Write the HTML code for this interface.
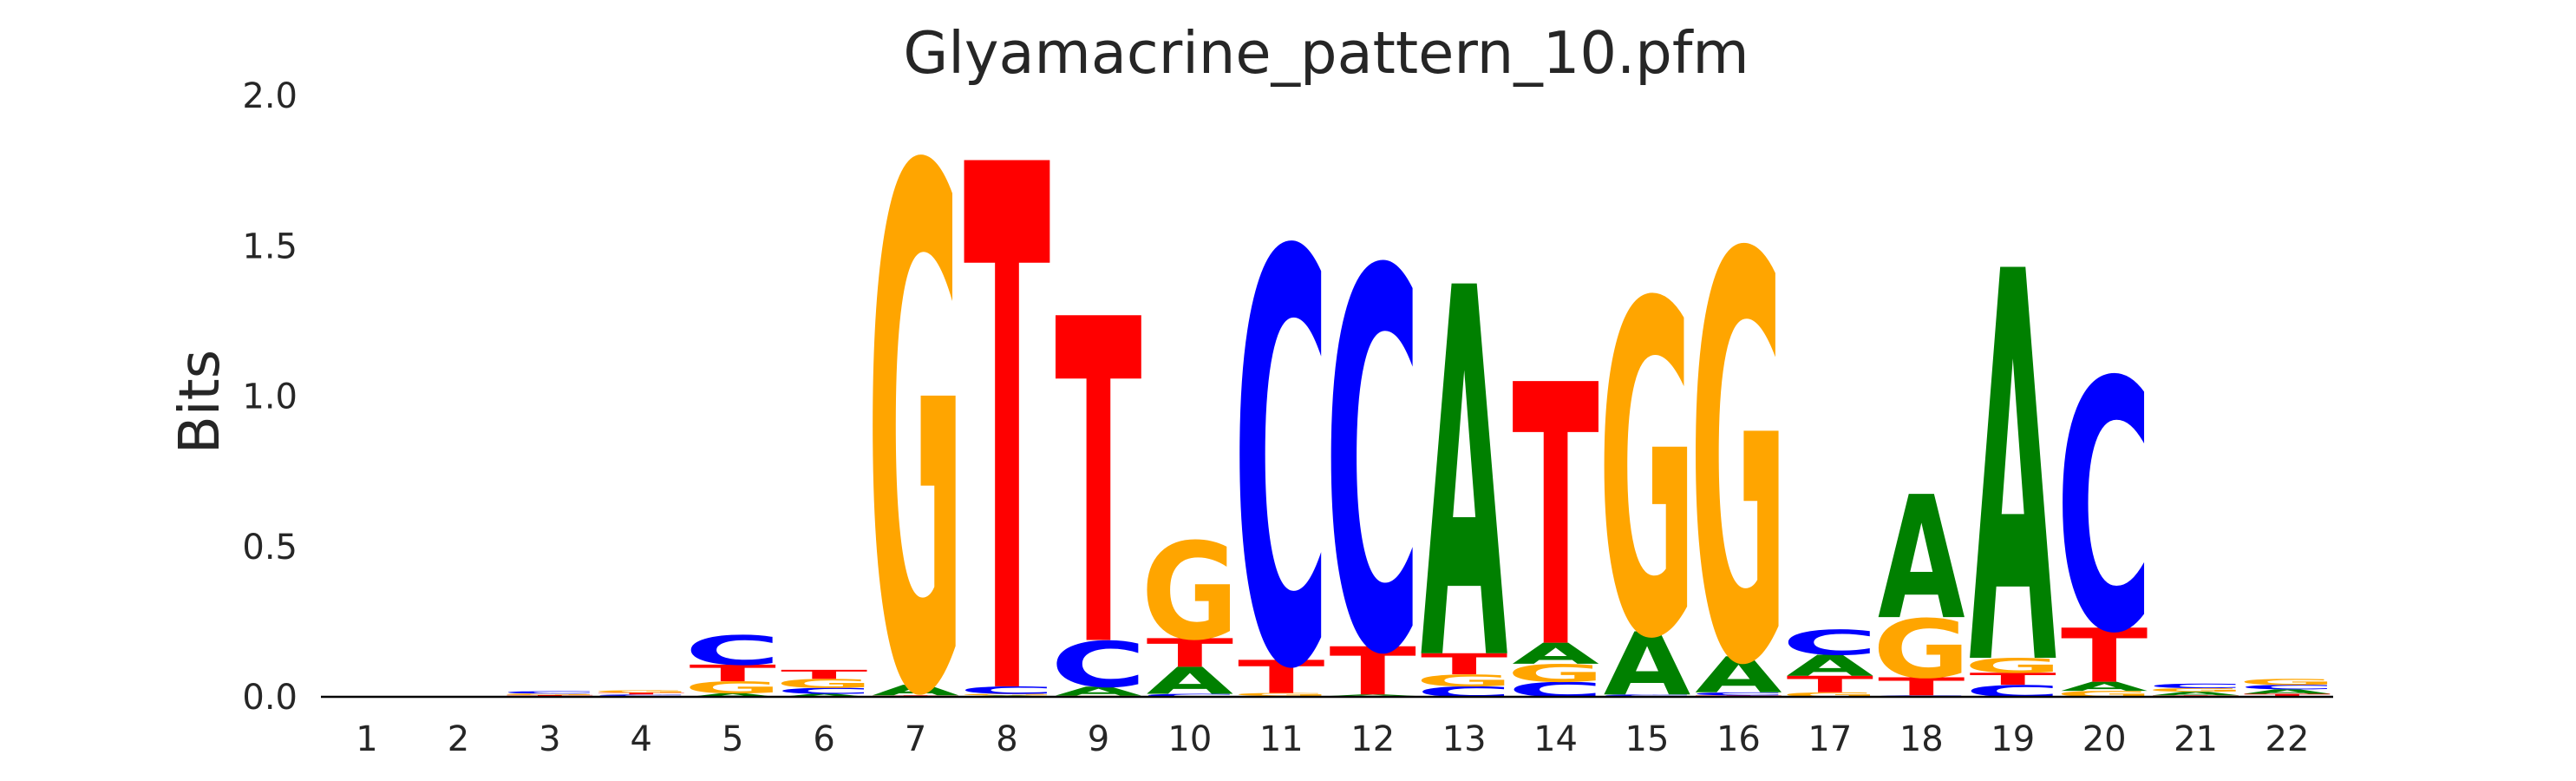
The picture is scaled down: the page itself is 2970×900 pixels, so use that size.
<!DOCTYPE html>
<html><head><meta charset="utf-8"><style>
html,body{margin:0;padding:0;background:#fff;width:2970px;height:900px;overflow:hidden;}
svg{display:block;}
text{font-family:"DejaVu Sans","Liberation Sans",sans-serif;}
</style></head><body>
<svg id="chart" width="2970" height="900" viewBox="0 0 2970 900" xmlns="http://www.w3.org/2000/svg">
<defs><clipPath id="plotclip"><rect x="300" y="0" width="2500" height="810"/></clipPath></defs>
<text x="1529" y="84" font-size="67" fill="#262626" text-anchor="middle">Glyamacrine_pattern_10.pfm</text>
<text transform="translate(252,463) rotate(-90)" font-size="64" fill="#262626" text-anchor="middle">Bits</text>
<g id="yticks"></g>
<g id="xticks"></g>
<g id="marks" clip-path="url(#plotclip)"></g>
<line x1="370" y1="803" x2="2690" y2="803" stroke="#000" stroke-width="2.5"/>
</svg>
<script>
const positions = [1,2,3,4,5,6,7,8,9,10,11,12,13,14,15,16,17,18,19,20,21,22];
const bitsA = [0,0,0.002,0.003,0.012,0.01,0.035,0.005,0.03,0.09,0.003,0.005,1.23,0.07,0.21,0.12,0.07,0.41,1.30,0.03,0.012,0.015];
const bitsC = [0,0,0.008,0.005,0.10,0.02,0.002,0.025,0.155,0.01,1.40,1.29,0.035,0.05,0.005,0.01,0.085,0.005,0.04,0.85,0.015,0.015];
const bitsG = [0,0,0.005,0.008,0.04,0.03,1.77,0.005,0.004,0.33,0.01,0.003,0.04,0.06,1.13,1.38,0.015,0.20,0.05,0.02,0.012,0.02];
const bitsT = [0,0,0.004,0.006,0.055,0.03,0.003,1.75,1.08,0.095,0.11,0.16,0.07,0.87,0.003,0.005,0.055,0.06,0.04,0.18,0.005,0.01];
const yTicks = [0,0.5,1.0,1.5,2.0];
const yTickLabels = ["0.0","0.5","1.0","1.5","2.0"];

const NS = "http://www.w3.org/2000/svg";
const X0 = 423, DX = (2637-423)/21, Y0 = 803, PXB = (803-110)/2;
function xs(p){ return X0 + (p-1)*DX; }
function ys(v){ return Y0 - v*PXB; }
const colors = {A:"#008000",C:"#0000ff",G:"#ffa500",T:"#ff0000"};
const inkW = {A:77,C:66,G:73,T:68};
const capH = {A:72.9,C:74.5,G:74.5,T:72.9};

const yg = document.getElementById('yticks');
yTicks.forEach((v,i)=>{
  const t = document.createElementNS(NS,'text');
  
  
  t.setAttribute('x',343); t.setAttribute('y',ys(v)+14);
  t.setAttribute('font-size',40); t.setAttribute('fill','#262626');
  t.setAttribute('text-anchor','end');
  t.textContent = yTickLabels[i];
  yg.appendChild(t);
});
const xg = document.getElementById('xticks');
positions.forEach(p=>{
  const t = document.createElementNS(NS,'text');
  
  
  t.setAttribute('x',xs(p)); t.setAttribute('y',865);
  t.setAttribute('font-size',40); t.setAttribute('fill','#262626');
  t.setAttribute('text-anchor','middle');
  t.textContent = String(p);
  xg.appendChild(t);
});
const mg = document.getElementById('marks');
const W = 100;
positions.forEach((p,i)=>{
  const items = [['A',bitsA[i]],['C',bitsC[i]],['G',bitsG[i]],['T',bitsT[i]]].filter(d=>d[1]>0);
  items.sort((a,b)=>a[1]-b[1]);
  let cum = 0;
  items.forEach(([L,v])=>{
    const yb = ys(cum), h = v*PXB;
    cum += v;
    const t = document.createElementNS(NS,'text');
    
    
    t.setAttribute('x',0); t.setAttribute('y',0);
    t.setAttribute('font-size',100);
    t.setAttribute('font-weight','bold');
    t.setAttribute('text-anchor','middle');
    t.setAttribute('fill',colors[L]);
    t.setAttribute('transform','translate('+xs(p)+','+yb+') scale('+(W/inkW[L])+','+(h/capH[L])+')');
    t.textContent = L;
    mg.appendChild(t);
  });
});
</script>
</body></html>
